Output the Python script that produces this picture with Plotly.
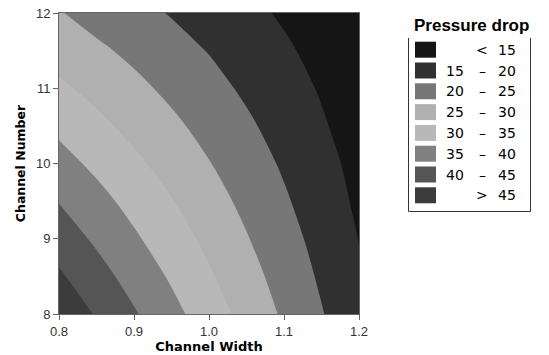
import plotly.graph_objects as go

# ---- data ----
channel_width = [0.80, 0.85, 0.90, 0.95, 1.00, 1.05, 1.10, 1.15, 1.20]
channel_number = [8.0, 8.5, 9.0, 9.5, 10.0, 10.5, 11.0, 11.5, 12.0]
# pressure drop, rows = channel_number, cols = channel_width
pressure_drop = [
    [48.6, 44.6, 40.5, 36.5, 32.4, 28.4, 24.3, 20.3, 16.2],
    [45.7, 41.9, 38.1, 34.4, 30.6, 26.8, 23.1, 19.3, 15.5],
    [42.7, 39.2, 35.7, 32.3, 28.8, 25.3, 21.8, 18.4, 14.9],
    [39.8, 36.6, 33.4, 30.2, 27.0, 23.8, 20.6, 17.4, 14.2],
    [36.8, 33.9, 31.0, 28.1, 25.2, 22.3, 19.4, 16.5, 13.6],
    [33.9, 31.2, 28.6, 26.0, 23.4, 20.8, 18.1, 15.5, 12.9],
    [30.9, 28.6, 26.2, 23.9, 21.6, 19.2, 16.9, 14.6, 12.2],
    [28.0, 25.9, 23.9, 21.8, 19.8, 17.7, 15.7, 13.6, 11.6],
    [25.3, 23.2, 21.5, 19.7, 18.0, 16.2, 14.4, 12.7, 10.9],
]
x_tick_vals = [0.8, 0.9, 1.0, 1.1, 1.2]
x_tick_text = ["0.8", "0.9", "1.0", "1.1", "1.2"]
y_tick_vals = [8, 9, 10, 11, 12]
level_start, level_end, level_size = 15, 45, 5
legend_lower = ["", "15", "20", "25", "30", "35", "40", ""]
legend_sign = ["<", "–", "–", "–", "–", "–", "–", ">"]
legend_upper = ["15", "20", "25", "30", "35", "40", "45", "45"]

# ---- styles ----
band_colors = ["#151515", "#303030", "#777777", "#b0b0b0",
               "#b8b8b8", "#808080", "#555555", "#3c3c3c"]
nb = len(band_colors)
colorscale = []
for i, c in enumerate(band_colors):
    lo = 0.0 if i == 0 else (i - 0.5) / (nb - 1)
    hi = 1.0 if i == nb - 1 else (i + 0.5) / (nb - 1)
    colorscale.append([lo, c])
    colorscale.append([hi, c])

W, H = 549, 355
L, R, T, B = 59, 359, 13, 314          # plot area in page pixels


def px(x):
    return (x - L) / (R - L)


def py(y):
    return (B - y) / (B - T)


fig = go.Figure()
fig.add_trace(go.Contour(
    x=channel_width, y=channel_number, z=pressure_drop,
    autocontour=False,
    contours=dict(start=level_start, end=level_end, size=level_size,
                  coloring="fill", showlines=False),
    colorscale=colorscale, showscale=False,
    line=dict(width=0, smoothing=1.0),
    hoverinfo="skip",
))

axis_color = "#666666"
tick_font = dict(family="Liberation Sans, Arial, sans-serif", size=13, color="#333333")
title_font = dict(family="DejaVu Sans, sans-serif", size=13, color="#000000", weight="bold")

fig.update_layout(
    width=W, height=H, autosize=False,
    margin=dict(l=L, r=W - R, t=T, b=H - B, pad=0),
    paper_bgcolor="white", plot_bgcolor="white",
    showlegend=False,
    xaxis=dict(range=[0.8, 1.2], tickvals=x_tick_vals, ticktext=x_tick_text,
               ticks="outside", ticklen=5, tickcolor=axis_color, tickwidth=1,
               showline=True, linecolor=axis_color, linewidth=1, mirror=True,
               showgrid=False, zeroline=False, tickfont=tick_font, automargin=False,
               ticklabeloverflow="allow",
               title=dict(text="Channel Width", font=title_font, standoff=3)),
    yaxis=dict(range=[8, 12], tickvals=y_tick_vals,
               ticks="outside", ticklen=5, tickcolor=axis_color, tickwidth=1,
               showline=True, linecolor=axis_color, linewidth=1, mirror=True,
               showgrid=False, zeroline=False, tickfont=tick_font, automargin=False,
               ticklabeloverflow="allow",
               title=dict(text="Channel Number",
                          font=dict(title_font, size=12.5), standoff=7)),
)

# ---- legend (drawn manually to match the boxed legend) ----
shapes = []
annotations = []
annotations.append(dict(
    x=px(412), y=py(25), xref="paper", yref="paper", xanchor="left", yanchor="middle",
    text="Pressure drop", showarrow=False,
    font=dict(family="Liberation Sans, Arial, sans-serif", size=17, color="#000000", weight="bold")))

box_l, box_r, box_t, box_b = 408.5, 530.5, 38, 211.5
for (x0, y0, x1, y1) in [(box_l, box_t, box_l, box_b), (box_r, box_t, box_r, box_b),
                         (box_l, box_b, box_r, box_b)]:
    shapes.append(dict(type="line", xref="paper", yref="paper",
                       x0=px(x0), y0=py(y0), x1=px(x1), y1=py(y1),
                       line=dict(color="#333333", width=1)))

row0, step = 41.7, 20.8
sw_h = 16
legend_font = dict(family="DejaVu Sans, sans-serif", size=14, color="#000000")
for i in range(len(band_colors)):
    top = row0 + i * step
    shapes.append(dict(type="rect", xref="paper", yref="paper",
                       x0=px(415), x1=px(436), y0=py(top), y1=py(top + sw_h),
                       fillcolor=band_colors[i], line=dict(width=0)))
    cy = py(top + sw_h / 2)
    if legend_lower[i]:
        annotations.append(dict(x=px(466), y=cy, xref="paper", yref="paper",
                                xanchor="right", yanchor="middle", text=legend_lower[i],
                                showarrow=False, font=legend_font))
    annotations.append(dict(x=px(482), y=cy, xref="paper", yref="paper",
                            xanchor="center", yanchor="middle", text=legend_sign[i],
                            showarrow=False, font=legend_font))
    annotations.append(dict(x=px(518), y=cy, xref="paper", yref="paper",
                            xanchor="right", yanchor="middle", text=legend_upper[i],
                            showarrow=False, font=legend_font))

fig.update_layout(shapes=shapes, annotations=annotations)
fig.write_html("out.html", config={"displayModeBar": False},
               post_script="document.body.style.margin='0px';document.body.style.padding='0px';")
